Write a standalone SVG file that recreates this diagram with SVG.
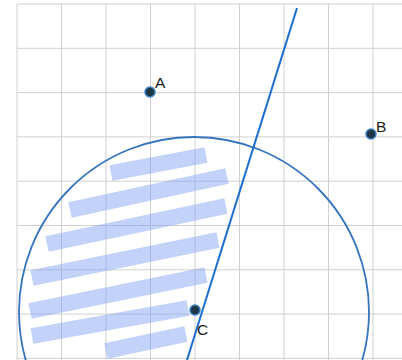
<svg xmlns="http://www.w3.org/2000/svg" width="402" height="360" viewBox="0 0 402 360">
  <style>
    .grid line { stroke: #d0d0d0; stroke-width: 1; }
    .stripe { stroke: #7f9ff0; stroke-opacity: 0.47; stroke-width: 16; stroke-linecap: butt; fill: none; }
    .pt { fill: #1c3847; stroke: #3f80c4; stroke-width: 1.5; }
    .lbl { font-family: "Liberation Sans", Arial, sans-serif; font-size: 15.5px; fill: #1a1a1a; }
  </style>
  <rect width="402" height="360" fill="#ffffff"/>
  <g class="grid" id="grid">
    <line x1="17" y1="4" x2="17" y2="360"/>
    <line x1="61.5" y1="4" x2="61.5" y2="360"/>
    <line x1="106" y1="4" x2="106" y2="360"/>
    <line x1="150.5" y1="4" x2="150.5" y2="360"/>
    <line x1="195" y1="4" x2="195" y2="360"/>
    <line x1="239.5" y1="4" x2="239.5" y2="360"/>
    <line x1="284" y1="4" x2="284" y2="360"/>
    <line x1="328.5" y1="4" x2="328.5" y2="360"/>
    <line x1="373" y1="4" x2="373" y2="360"/>
    <line x1="17" y1="4" x2="402" y2="4"/>
    <line x1="17" y1="48.3" x2="402" y2="48.3"/>
    <line x1="17" y1="92.6" x2="402" y2="92.6"/>
    <line x1="17" y1="136.9" x2="402" y2="136.9"/>
    <line x1="17" y1="181.2" x2="402" y2="181.2"/>
    <line x1="17" y1="225.5" x2="402" y2="225.5"/>
    <line x1="17" y1="269.8" x2="402" y2="269.8"/>
    <line x1="17" y1="314.1" x2="402" y2="314.1"/>
    <line x1="17" y1="358.4" x2="402" y2="358.4"/>
  </g>
  <g id="shading">
    <line class="stripe" x1="111" y1="173" x2="206" y2="155"/>
    <line class="stripe" x1="70" y1="210" x2="227" y2="176"/>
    <line class="stripe" x1="47" y1="244" x2="226" y2="206"/>
    <line class="stripe" x1="32" y1="278" x2="218" y2="240"/>
    <line class="stripe" x1="30" y1="311" x2="206" y2="275"/>
    <line class="stripe" x1="32" y1="336" x2="188" y2="308"/>
    <line class="stripe" x1="106" y1="351" x2="186" y2="334"/>
  </g>
  <g id="connectors">
    <circle cx="194" cy="312" r="175" fill="none" stroke="#3674bd" stroke-width="1.8"/>
    <line x1="297" y1="8" x2="187" y2="360" stroke="#1f6fcc" stroke-width="2"/>
  </g>
  <g id="A">
    <circle class="pt" cx="150" cy="92" r="5"/>
    <text class="lbl" x="155" y="88">A</text>
  </g>
  <g id="B">
    <circle class="pt" cx="371" cy="134" r="5"/>
    <text class="lbl" x="376" y="132">B</text>
  </g>
  <g id="C">
    <circle class="pt" cx="195" cy="310" r="5"/>
    <text class="lbl" x="197" y="335">C</text>
  </g>
</svg>
